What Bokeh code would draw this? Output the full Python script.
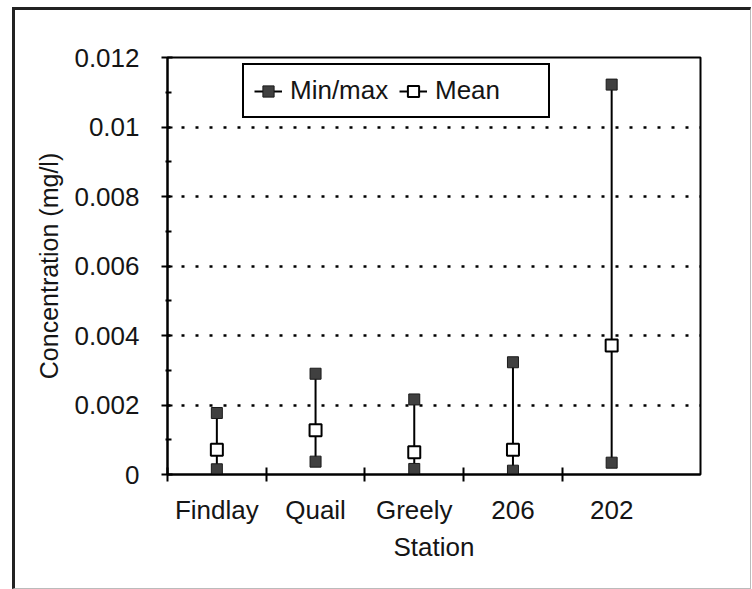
from bokeh.plotting import figure
from bokeh.models import Range1d, FixedTicker, Legend, LegendItem, ColumnDataSource
from bokeh.embed import file_html
from bokeh.resources import INLINE

stations = ["Findlay", "Quail", "Greely", "206", "202"]
min_vals = [0.00015, 0.00037, 0.00016, 0.00011, 0.00034]
max_vals = [0.00177, 0.00290, 0.00216, 0.00323, 0.01122]
mean_vals = [0.00071, 0.00127, 0.00064, 0.00071, 0.00371]
y_ticks = [0, 0.002, 0.004, 0.006, 0.008, 0.01, 0.012]
y_tick_labels = ["0", "0.002", "0.004", "0.006", "0.008", "0.01", "0.012"]

FONT = "Liberation Sans"
TXT = "#151515"
xs = list(range(len(stations)))

src = ColumnDataSource(dict(x=xs, lo=min_vals, hi=max_vals, mean=mean_vals))

p = figure(width=738, height=581, output_backend="svg", toolbar_location=None,
           x_range=Range1d(-0.5, 4.9), y_range=Range1d(0, 0.012),
           frame_width=533, frame_height=417,
           min_border_left=152, min_border_top=47, min_border_right=50, min_border_bottom=114,
           background_fill_color="white", border_fill_color="white")
p.margin = (7, 0, 0, 12)
p.styles = {"border-left": "3px solid #222", "border-top": "3px solid #222",
            "border-right": "1px solid #bbb", "border-bottom": "1px solid #bbb",
            "box-sizing": "border-box"}

p.outline_line_color = "black"
p.outline_line_width = 2
p.outline_line_alpha = 1

# y axis
p.yaxis.ticker = FixedTicker(ticks=y_ticks, minor_ticks=[0.001, 0.003, 0.005, 0.007, 0.009, 0.011])
p.yaxis.major_label_overrides = {t: l for t, l in zip(y_ticks, y_tick_labels)}
p.yaxis.axis_label = "Concentration (mg/l)"
p.yaxis.axis_label_text_font = FONT
p.yaxis.axis_label_text_font_size = "25px"
p.yaxis.axis_label_text_font_style = "normal"
p.yaxis.axis_label_text_color = TXT
p.yaxis.axis_label_standoff = 8
p.yaxis.major_label_text_font = FONT
p.yaxis.major_label_text_font_size = "26px"
p.yaxis.major_label_text_color = TXT
p.yaxis.major_label_standoff = 22
p.yaxis.axis_line_color = "black"
p.yaxis.axis_line_width = 2
p.yaxis.major_tick_in = 5
p.yaxis.major_tick_out = 6
p.yaxis.major_tick_line_width = 2
p.yaxis.minor_tick_in = 4
p.yaxis.minor_tick_out = 2
p.yaxis.minor_tick_line_width = 2

# x axis
p.xaxis.ticker = FixedTicker(ticks=xs, minor_ticks=[-0.5, 0.5, 1.5, 2.5, 3.5])
p.xaxis.major_label_overrides = {i: s for i, s in zip(xs, stations)}
p.xaxis.axis_label = "Station"
p.xaxis.axis_label_text_font = FONT
p.xaxis.axis_label_text_font_size = "26px"
p.xaxis.axis_label_text_font_style = "normal"
p.xaxis.axis_label_text_color = TXT
p.xaxis.axis_label_standoff = 4
p.xaxis.major_label_text_font = FONT
p.xaxis.major_label_text_font_size = "26px"
p.xaxis.major_label_text_color = TXT
p.xaxis.major_label_standoff = 13
p.xaxis.axis_line_color = "black"
p.xaxis.axis_line_width = 2
p.xaxis.major_tick_in = 0
p.xaxis.major_tick_out = 0
p.xaxis.minor_tick_in = 7
p.xaxis.minor_tick_out = 7
p.xaxis.minor_tick_line_width = 2

# grid
p.xgrid.grid_line_color = None
p.ygrid.ticker = FixedTicker(ticks=y_ticks[1:-1])
p.ygrid.grid_line_color = "black"
p.ygrid.grid_line_width = 2.5
p.ygrid.grid_line_dash = "3 11"

seg = p.segment(x0="x", y0="lo", x1="x", y1="hi", source=src, line_color="black", line_width=2)
r_min = p.scatter(x="x", y="lo", source=src, marker="square", size=11,
                  fill_color="#404040", line_color="#1a1a1a", line_width=1)
r_max = p.scatter(x="x", y="hi", source=src, marker="square", size=11,
                  fill_color="#404040", line_color="#1a1a1a", line_width=1)
r_mean = p.scatter(x="x", y="mean", source=src, marker="square", size=12,
                   fill_color="white", line_color="black", line_width=2)

legend = Legend(items=[LegendItem(label="Min/max", renderers=[seg, r_min]),
                       LegendItem(label="Mean", renderers=[seg, r_mean])],
                orientation="horizontal", location=(75, 356),
                label_text_font=FONT, label_text_font_size="26px", label_text_color=TXT,
                glyph_width=28, glyph_height=28, label_standoff=8, spacing=6,
                label_width=103, label_height=28,
                padding=10, margin=0,
                border_line_color="black", border_line_width=2, border_line_alpha=1,
                background_fill_color="white", background_fill_alpha=1)
p.add_layout(legend)

open("out.html", "w").write(file_html(p, INLINE))
